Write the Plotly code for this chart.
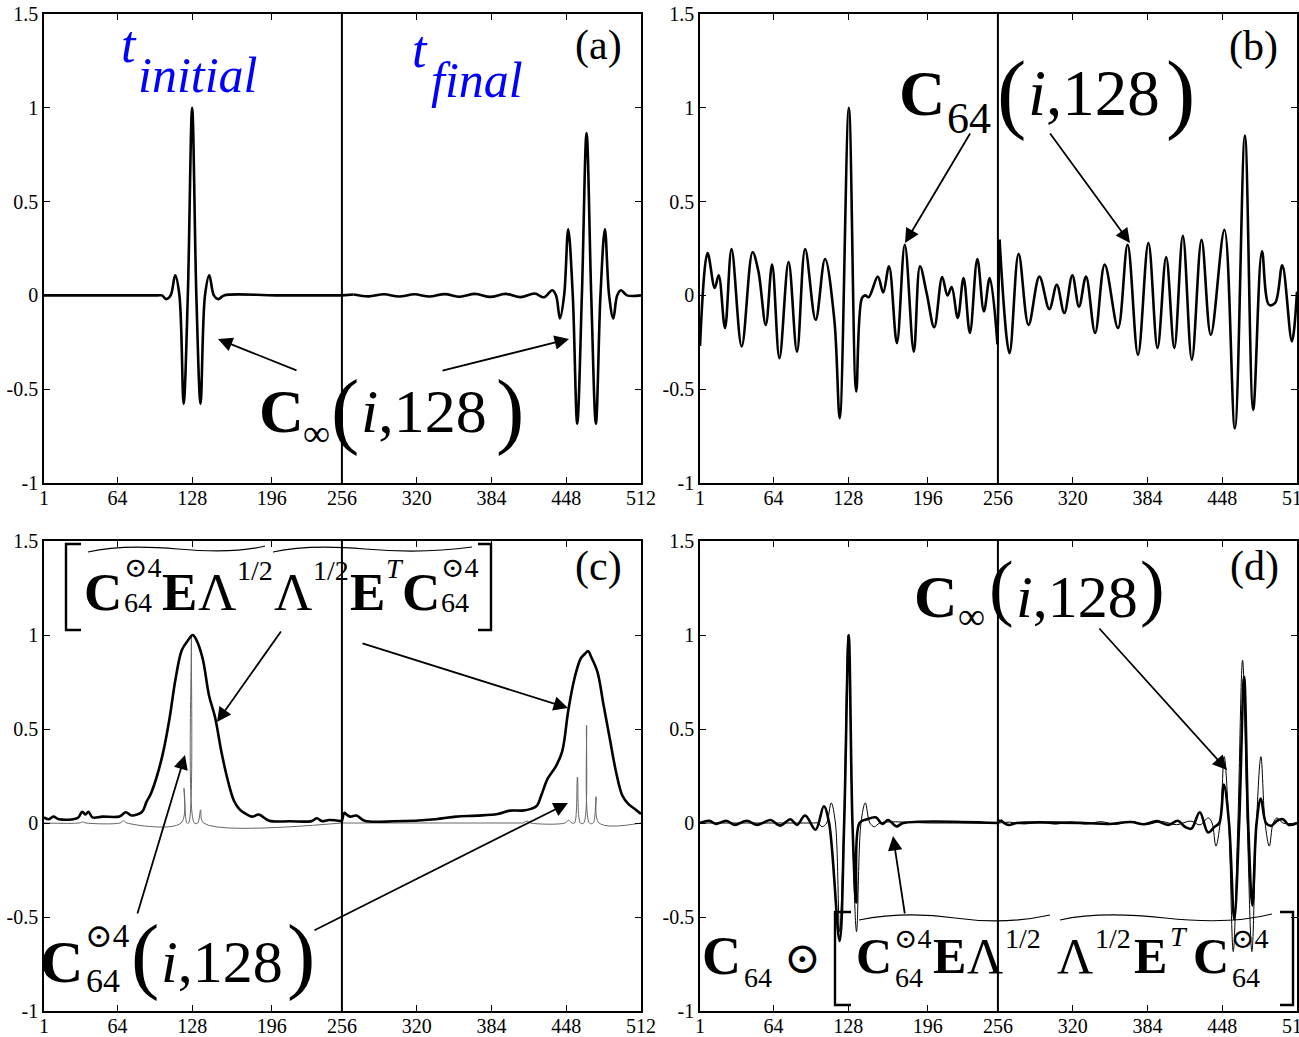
import plotly.graph_objects as go

W, H = 1299, 1037
SERIF = '"Liberation Serif", "Times New Roman", "DejaVu Serif", serif'

# ---------------- data ----------------
x_ticks = [1, 64, 128, 196, 256, 320, 384, 448, 512]
y_ticks = [-1, -0.5, 0, 0.5, 1, 1.5]
y_tick_text = ["-1", "-0.5", "0", "0.5", "1", "1.5"]
t_split = 256  # boundary between t_initial and t_final halves

# C_inf(i,128)
c_inf_x = [1, 50, 98, 102.0, 105.5, 109.4, 113.3, 116.9, 120.5, 124.1, 127.8, 131.4, 135.0, 138.8,
           142.5, 146.4, 150.3, 155, 200, 256,
           266, 279, 292, 305, 318, 331, 344, 357, 370, 383, 396, 409, 421, 429,
           436.0, 439.3, 442.6, 446.2, 449.7, 453.6, 457.4, 461.4, 465.4, 469.4, 473.4, 477.3,
           481.1, 484.7, 488.3, 491.6, 494.9, 500, 512]
c_inf_y = [0, 0, 0, 0, -0.02, 0, 0.107, 0, -0.578, 0, 1.0, 0, -0.578, 0,
           0.107, 0, -0.02, 0, 0, 0,
           0.005, -0.005, 0.006, -0.006, 0.006, -0.006, 0.007, -0.007, 0.008, -0.008, 0.008, -0.009, 0.01, -0.01,
           0.027, 0, -0.123, 0, 0.353, 0, -0.684, 0, 0.866, 0, -0.684, 0,
           0.353, 0, -0.123, 0, 0.027, 0, 0]

# C_64(i,128)
c64_x = [1, 7.5, 13.6, 17, 22.4, 28, 36.7, 46, 51, 57.3, 62.7, 69, 76.8, 84, 91, 100, 108, 116,
         120.6, 128.4, 134.7, 139.6, 142.5, 145.4, 153.2, 157.8, 162.8, 169.5, 176.3, 184, 189.3,
         195, 201.5, 208.3, 212.8, 216.4, 221.6, 226.6, 232, 238.4, 244, 249, 255.6,
         257.4, 265.9, 273.7, 282.2, 291.5, 300, 306.4, 312.8, 319.7, 325.4, 331.4, 339.2, 347.4,
         358.8, 367, 375.9, 384.8, 392.6, 400, 407, 414.3, 422, 430.3, 438.2, 449.9, 458.8, 467.4,
         474.5, 482, 488, 493.3, 499.4, 507.6, 512]
c64_y = [-0.27, 0.226, 0.04, 0.107, -0.174, 0.247, -0.272, 0.23, 0.128, -0.157, 0.164, -0.335, 0.178,
         -0.3, 0.247, -0.13, 0.194, -0.13, -0.655, 1.0, -0.512, -0.015, 0.0, -0.01, 0.1, 0.016, 0.155,
         -0.254, 0.27, -0.3, 0.155, 0.012, -0.17, 0.098, 0.0, 0.044, -0.12, 0.093, -0.2, 0.194,
         -0.085, 0.093, -0.26,
         0.297, -0.308, 0.222, -0.157, 0.1, -0.073, 0.057, -0.094, 0.107, -0.06, 0.1, -0.2, 0.164,
         -0.174, 0.27, -0.317, 0.28, -0.28, 0.205, -0.28, 0.318, -0.343, 0.297, -0.21, 0.35, -0.708,
         0.852, -0.61, 0.235, -0.05, -0.04, 0.16, -0.245, 0.02]

# [C64^(.4) E Lambda^1/2 Lambda^1/2 E^T C64^(.4)](i,128)
env_x = [1, 5, 9, 14, 30, 33.7, 36.5, 39, 42.5, 51, 65.7, 71, 76, 85, 88.8, 92.4, 97.7, 103, 108.4,
         113.7, 119, 124.4, 128.3, 131.5, 136.8, 142.2, 147.5, 152.8, 158.2, 163.5, 168.8, 174,
         179.5, 184.8, 193.7, 211.5, 230, 234.6, 239, 245, 256,
         257.7, 263, 268.4, 275.4, 300.4, 335.9, 353.7, 371.5, 389.3, 400, 410.6, 417.8, 423, 426.6,
         432, 439, 444.5, 449.8, 455.1, 460.4, 464, 466.8, 469.3, 474.7, 480, 485.3, 490.7, 496,
         501.3, 506.7, 512]
env_y = [0.03, 0.02, 0.034, 0.02, 0.027, 0.06, 0.045, 0.06, 0.03, 0.034, 0.035, 0.057, 0.04, 0.06,
         0.114, 0.155, 0.25, 0.377, 0.555, 0.77, 0.92, 0.973, 1.0, 0.973, 0.875, 0.68, 0.56, 0.38,
         0.23, 0.12, 0.07, 0.048, 0.034, 0.045, 0.012, 0.009, 0.01, 0.025, 0.01, 0.016, 0.01,
         0.057, 0.034, 0.04, 0.012, 0.009, 0.02, 0.034, 0.039, 0.048, 0.066, 0.066, 0.075, 0.093,
         0.146, 0.235, 0.3, 0.38, 0.6, 0.77, 0.875, 0.9, 0.915, 0.884, 0.804, 0.626, 0.448, 0.27,
         0.146, 0.1, 0.075, 0.048]

# C64^(.4)(i,128)
c4_x = [1, 31, 34, 37, 66, 69, 72, 118.3, 120.8, 123.3, 124.8, 127.2, 129.6, 132.6, 135.1, 137.6, 256,
        411, 414.3, 417.6, 446.9, 449.9, 452.9, 455.1, 457.6, 460.1, 463.0, 465.4, 467.8, 471.1,
        473.6, 476.1, 512]
c4_y = [0, 0, 0.005, 0, 0, 0.012, 0, 0, 0.185, 0, 0, 1.0, 0, 0, 0.07, 0, 0,
        0, 0.01, 0, 0, 0.015, 0, 0, 0.244, 0, 0, 0.52, 0, 0, 0.14, 0, 0]

# C64 (.) [ ... ](i,128)
prod_x = [1, 9, 14.5, 23.5, 30.6, 41, 50, 61.4, 69.6, 78.5, 84, 91, 99.9, 107, 111.5, 120.5, 124.4,
          128.3, 131.5, 134.7, 137.5, 144, 151.4, 157, 162, 169.2, 175, 256,
          258, 265, 272, 330, 350, 370, 381, 392, 402, 410, 416, 421.6, 428.8, 435.8, 441.5, 445.5,
          449.4, 453.8, 458.3, 462.5, 466.7, 470.2, 473.8, 477.4, 481.1, 485.5, 490, 495, 500, 505, 512]
prod_y = [0, 0.012, -0.005, 0.012, -0.01, 0.012, -0.01, 0.016, -0.014, 0.02, -0.01, 0.04, -0.036,
          0.089, 0.0, -0.628, 0.0, 1.0, 0.0, -0.423, 0.0, 0.02, 0.03, -0.005, 0.016, -0.018, 0.0, 0.0,
          0.016, -0.01, 0.0, 0.0, -0.005, 0.005, -0.007, 0.01, -0.01, 0.012, -0.02, -0.03, 0.057,
          -0.05, -0.02, 0.0, 0.205, 0.0, -0.512, 0.0, 0.778, 0.0, -0.44, 0.0, 0.13, 0.0, -0.015,
          0.012, 0.02, -0.01, 0.0]


# ---------------- helpers: pixels -> paper fractions ----------------
def px(x):
    return min(1.0, max(0.0, x / W))


def py(y):
    return min(1.0, max(0.0, 1 - y / H))


fig = go.Figure()


def add_curve(xs, ys, xa, ya, width, color):
    """Smooth each half separately; the two halves are joined by a straight step at t_split."""
    left = [(x, y) for x, y in zip(xs, ys) if x <= t_split]
    right = [(x, y) for x, y in zip(xs, ys) if x > t_split]
    line = dict(color=color, width=width, shape="spline", smoothing=1.0)
    for part in (left, right):
        fig.add_trace(go.Scatter(x=[p[0] for p in part], y=[p[1] for p in part], mode="lines",
                                 line=line, xaxis=xa, yaxis=ya, showlegend=False, hoverinfo="skip"))
    fig.add_trace(go.Scatter(x=[left[-1][0], right[0][0]], y=[left[-1][1], right[0][1]],
                             mode="lines", line=dict(color=color, width=width),
                             xaxis=xa, yaxis=ya, showlegend=False, hoverinfo="skip"))


THICK = 2.6
add_curve(c_inf_x, c_inf_y, "x", "y", THICK, "black")
add_curve(c64_x, c64_y, "x2", "y2", THICK, "black")
add_curve(c4_x, c4_y, "x3", "y3", 1.0, "#666666")
add_curve(env_x, env_y, "x3", "y3", THICK, "black")
add_curve(c_inf_x, c_inf_y, "x4", "y4", 1.0, "black")
add_curve(prod_x, prod_y, "x4", "y4", THICK, "black")

# axes (fixed margins: no automatic growth around tick labels)
col_left = [px(44), px(641)]
col_right = [px(700), px(1297)]
row_top = [py(483), py(14)]
row_bot = [py(1011), py(541)]

tickfont = dict(family=SERIF, size=20, color="black")
common = dict(showline=True, linecolor="black", linewidth=1.6, mirror="ticks", ticks="inside",
              ticklen=6, tickwidth=1.3, tickcolor="black", showgrid=False, zeroline=False,
              tickfont=tickfont, automargin=False, ticklabeloverflow="allow")
xcommon = dict(common, range=[1, 512], tickmode="array", tickvals=x_ticks,
               ticktext=[str(v) for v in x_ticks], ticklabelstandoff=-4)
ycommon = dict(common, range=[-1, 1.5], tickmode="array", tickvals=y_ticks, ticktext=y_tick_text)

layout_axes = {}
for i, (xd, yd) in enumerate([(col_left, row_top), (col_right, row_top),
                               (col_left, row_bot), (col_right, row_bot)], start=1):
    sx = "" if i == 1 else str(i)
    layout_axes["xaxis" + sx] = dict(xcommon, domain=xd, anchor="y" + sx)
    layout_axes["yaxis" + sx] = dict(ycommon, domain=yd, anchor="x" + sx)

fig.update_layout(template="none", width=W, height=H, margin=dict(l=0, r=0, t=0, b=0, pad=0),
                  paper_bgcolor="white", plot_bgcolor="white", showlegend=False, **layout_axes)

# ---------------- decorations ----------------
shapes = []
for sx in ["", "2", "3", "4"]:
    shapes.append(dict(type="line", xref="x" + sx, yref="y" + sx + " domain", x0=t_split, x1=t_split,
                       y0=0, y1=1, line=dict(color="black", width=2)))


def pp(x, y):
    return f"{px(x):.5f},{py(y):.5f}"


def path_shape(d, width):
    shapes.append(dict(type="path", xref="paper", yref="paper", path=d,
                       line=dict(color="black", width=width)))


def bracket(x_out, x_in, y0, y1):
    path_shape(f"M{pp(x_in, y0)} L{pp(x_out, y0)} L{pp(x_out, y1)} L{pp(x_in, y1)}", 2.4)


def brace(p0, c, m, p1):
    path_shape(f"M{pp(*p0)} Q{pp(*c)} {pp(*m)} T{pp(*p1)}", 1.2)


# brackets and overbraces, panel (c)
bracket(66, 81, 544, 630)
bracket(491, 478, 544, 630)
brace((88, 552), (122, 544), (178, 549), (265, 546))
brace((273, 552), (308, 544), (365, 549), (472, 547))
# brackets and overbraces, panel (d)
bracket(835, 851, 912, 1005)
bracket(1293, 1280, 912, 1005)
brace((859, 920), (905, 911), (955, 918), (1050, 915))
brace((1060, 920), (1100, 911), (1165, 918), (1272, 914))

fig.update_layout(shapes=shapes)

anns = []


def txt(s, left, base, size, weight="normal", style="normal", color="black"):
    yc = base - 0.3375 * size
    anns.append(dict(text=s, xref="paper", yref="paper", x=px(left), y=py(yc),
                     xanchor="left", yanchor="middle", showarrow=False, borderpad=0, borderwidth=0,
                     font=dict(family=SERIF, size=size, color=color, weight=weight, style=style)))


def arrow(tail, head):
    anns.append(dict(text="", xref="paper", yref="paper", x=px(head[0]), y=py(head[1]),
                     ax=tail[0] - head[0], ay=tail[1] - head[1], axref="pixel", ayref="pixel",
                     showarrow=True, arrowhead=2, arrowsize=1.6, arrowwidth=1.8,
                     arrowcolor="black", standoff=0))


BLUE = "#0000ff"
# panel (a)
txt("t", 121, 62, 52, style="italic", color=BLUE)
txt("initial", 138, 92, 50, style="italic", color=BLUE)
txt("t", 412, 67, 52, style="italic", color=BLUE)
txt("final", 431, 97, 50, style="italic", color=BLUE)
txt("(a)", 575, 60, 42)
txt("C", 259, 432, 62, weight="bold")
txt("∞", 303, 446, 38)
txt("(", 331, 438, 85)
txt("<i>i</i>,128", 361, 432, 62)
txt(")", 496, 438, 85)
arrow((298, 371), (218, 339))
arrow((441, 371), (569, 339))

# panel (b)
txt("C", 899, 115, 64, weight="bold")
txt("64", 947, 133, 44)
txt("(", 997, 122, 88)
txt("<i>i</i>,128", 1028, 115, 65)
txt(")", 1166, 122, 88)
txt("(b)", 1229, 61, 42)
arrow((971, 132), (905, 243))
arrow((1049, 132), (1130, 243))

# panel (c): bracketed product above the curves
txt("C", 84, 610, 53, weight="bold")
txt("⊙4", 124, 577, 28)
txt("64", 124, 612, 28)
txt("E", 162, 610, 53, weight="bold")
txt("Λ", 198, 610, 53)
txt("1/2", 237, 580, 28)
txt("Λ", 274, 610, 53)
txt("1/2", 313, 580, 28)
txt("E", 350, 610, 53, weight="bold")
txt("T", 386, 578, 28, style="italic")
txt("C", 402, 610, 53, weight="bold")
txt("⊙4", 441, 577, 28)
txt("64", 441, 612, 28)
txt("(c)", 575, 581, 42)
# panel (c): lower label
txt("C", 40, 982, 60, weight="bold")
txt("⊙4", 85, 947, 33)
txt("64", 86, 992, 34)
txt("(", 131, 983, 85)
txt("<i>i</i>,128", 161, 982, 60)
txt(")", 287, 983, 85)
arrow((282, 630), (217, 722))
arrow((361, 643), (568, 708))
arrow((137, 915), (185, 755))
arrow((313, 931), (568, 803))

# panel (d)
txt("C", 914, 617, 60, weight="bold")
txt("∞", 958, 629, 38)
txt("(", 989, 612, 74)
txt("<i>i</i>,128", 1016, 617, 60)
txt(")", 1140, 612, 74)
txt("(d)", 1230, 581, 42)
txt("C", 702, 974, 54, weight="bold")
txt("64", 744, 987, 28)
txt("⊙", 784, 973, 44)
txt("C", 856, 973, 50, weight="bold")
txt("⊙4", 894, 948, 28)
txt("64", 895, 987, 28)
txt("E", 933, 973, 50, weight="bold")
txt("Λ", 967, 973, 50)
txt("1/2", 1005, 948, 28)
txt("Λ", 1057, 973, 50)
txt("1/2", 1095, 948, 28)
txt("E", 1134, 973, 50, weight="bold")
txt("T", 1170, 946, 28, style="italic")
txt("C", 1193, 973, 50, weight="bold")
txt("⊙4", 1231, 948, 28)
txt("64", 1232, 987, 28)
arrow((1098, 627), (1227, 770))
arrow((905, 915), (893, 836))

fig.update_layout(annotations=anns)
fig.write_html("out.html")
